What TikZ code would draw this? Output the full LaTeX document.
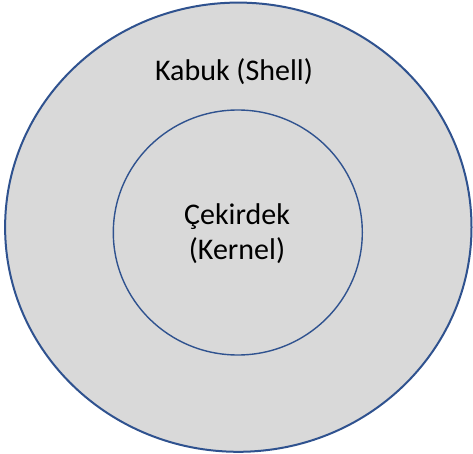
\documentclass[tikz,border=0pt]{standalone}
\usepackage{fontspec}
\setmainfont{Carlito}
\definecolor{ringblue}{HTML}{2F528F}
\definecolor{fillgray}{HTML}{D9D9D9}
\begin{document}
\begin{tikzpicture}[x=1pt,y=-1pt,
  lbl/.style={font=\fontsize{30}{36}\selectfont, text=black, align=center, inner sep=0pt}]
\useasboundingbox (0,0) rectangle (473,454);
\fill[white] (0,0) rectangle (473,454);
\draw[ringblue, line width=2pt, fill=fillgray] (238.3,227.2) ellipse [x radius=233.2, y radius=224.6];
\draw[ringblue, line width=1.4pt, fill=fillgray] (237.8,232.5) ellipse [x radius=124.5, y radius=122.5];
\node[lbl, anchor=base] (shell) at (234,81) {Kabuk (Shell)};
\node[lbl, anchor=base] (kern1) at (237,225) {Çekirdek};
\node[lbl, anchor=base] (kern2) at (237,259) {(Kernel)};
\end{tikzpicture}
\end{document}
